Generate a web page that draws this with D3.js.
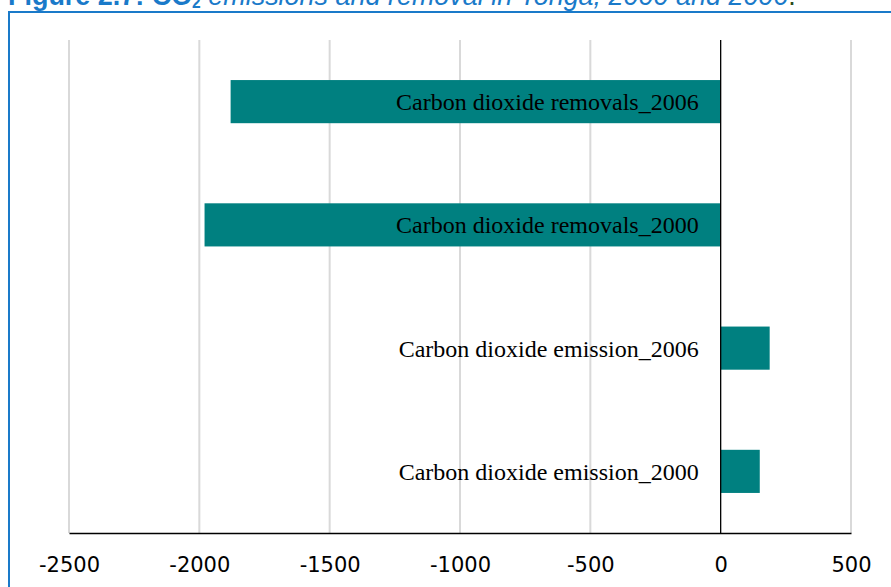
<!DOCTYPE html>
<html><head><meta charset="utf-8">
<script src="https://cdn.jsdelivr.net/npm/d3@7/dist/d3.min.js"></script>
<style>
html,body{margin:0;padding:0;background:#fff;}
svg{display:block;}
</style></head>
<body>
<svg id="chart" width="891" height="587"></svg>
<script>
const categories = ["Carbon dioxide removals_2006","Carbon dioxide removals_2000","Carbon dioxide emission_2006","Carbon dioxide emission_2000"];
const values = [-1880, -1980, 188, 150];
const tickValues = [-2500,-2000,-1500,-1000,-500,0,500];
const titleBold = "Figure 2.7: CO";
const titleSub = "2";
const titleRest = " emissions and removal in Tonga, 2000 and 2006";

const svg = d3.select("#chart");
const W = 891, H = 587;
const plot = {left:69, right:851, top:40, bottom:533};

// panel border
svg.append("rect").attr("x",9).attr("y",12).attr("width",W+10).attr("height",H+10)
  .attr("fill","none").attr("stroke","#1a7ac9").attr("stroke-width",2);

// title (partially cut at top)
const tfs = 24;
const t = svg.append("text").attr("x",8).attr("y",4.5)
  .attr("font-family","Liberation Sans, Arial, sans-serif").attr("font-size",tfs).attr("fill","#1a7ac9");
t.append("tspan").attr("font-weight","bold").text(titleBold);
t.append("tspan").attr("font-weight","bold").attr("font-size",tfs*0.65).attr("dy",3).text(titleSub);
t.append("tspan").attr("font-style","italic").attr("dy",-3).text(titleRest);
t.append("tspan").attr("fill","#2a4a1a").text(".");
const tl = t.node().getComputedTextLength();
if (tl > 0) t.attr("font-size", tfs * 789 / tl);

const x = d3.scaleLinear().domain([-2500,500]).range([plot.left, plot.right]);
const y = d3.scaleBand().domain(categories).range([plot.top, plot.bottom]).paddingInner(0.65).paddingOuter(0.325);

// gridlines
svg.append("g").selectAll("line").data(tickValues.filter(d=>d!==0)).join("line")
  .attr("x1",d=>x(d)).attr("x2",d=>x(d)).attr("y1",plot.top).attr("y2",plot.bottom)
  .attr("stroke","#d9d9d9").attr("stroke-width",2);

// bars
svg.append("g").selectAll("rect").data(values).join("rect")
  .attr("x",(d)=>x(Math.min(0,d))).attr("width",d=>Math.abs(x(d)-x(0)))
  .attr("y",(d,i)=>y(categories[i])).attr("height",y.bandwidth())
  .attr("fill","#008080");

// zero line
svg.append("line").attr("x1",x(0)).attr("x2",x(0)).attr("y1",plot.top).attr("y2",plot.bottom)
  .attr("stroke","#000").attr("stroke-width",1.3);

// x axis
const xAxis = d3.axisBottom(x).tickValues(tickValues).tickSize(0).tickPadding(24).tickFormat(d=>String(d));
const gx = svg.append("g").attr("transform",`translate(0,${plot.bottom})`).call(xAxis);
gx.select(".domain").attr("stroke","#000").attr("stroke-width",1.5);
gx.selectAll("text").attr("font-family","DejaVu Sans, sans-serif")
  .attr("font-size",21).attr("fill","#000");

// category labels
svg.append("g").selectAll("text").data(categories).join("text")
  .attr("x",x(0)-22).attr("y",d=>y(d)+y.bandwidth()/2).attr("dy","0.35em")
  .attr("text-anchor","end").attr("font-family","Liberation Serif, Times New Roman, serif")
  .attr("font-size",24).attr("fill","#000").text(d=>d);
</script>
</body></html>
